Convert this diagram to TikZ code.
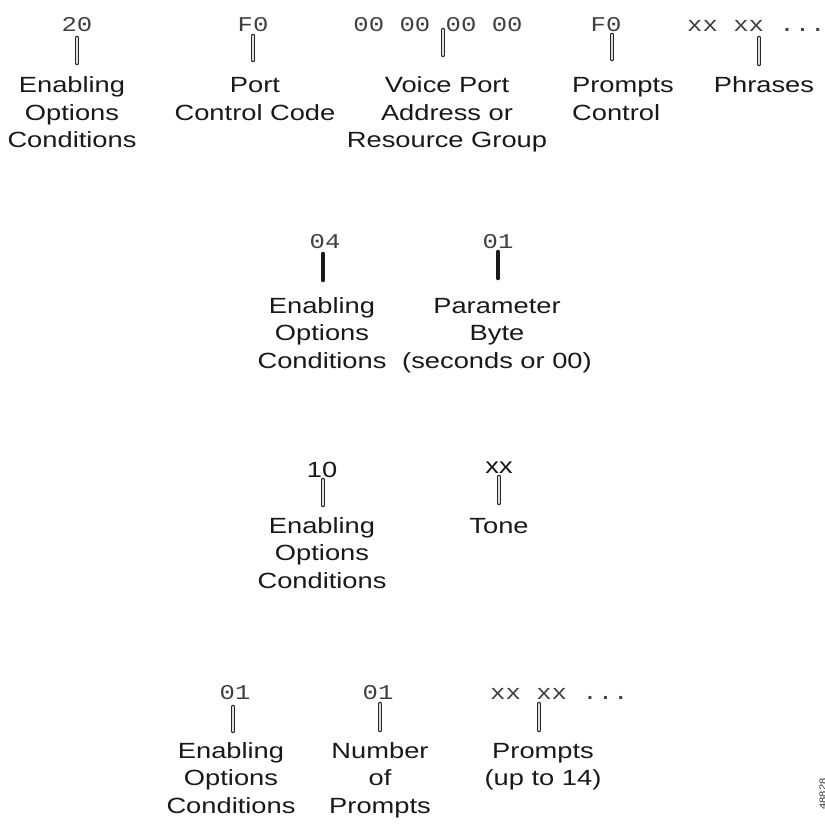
\documentclass[tikz,border=0pt]{standalone}
\usepackage{fontspec}
\setmainfont{Liberation Sans}[FakeStretch=1.24]
\newfontfamily\codefont{Liberation Mono}[FakeStretch=1.22]
\newcommand{\labfont}{\fontsize{22}{27.5}\selectfont}
\newcommand{\cfont}{\codefont\fontsize{21}{26}\selectfont}
\begin{document}
\begin{tikzpicture}[x=1pt,y=-1pt,
  lab/.style={font=\labfont, align=center, inner sep=0pt, anchor=base, text=black!90},
  labl/.style={font=\labfont, align=left, inner sep=0pt, anchor=base west, text=black!90},
  code/.style={font=\cfont, inner sep=0pt, anchor=base, text=black!75},
  scode/.style={font=\labfont, inner sep=0pt, anchor=base, text=black!90},
  bar/.style={line width=2.4pt, draw=gray!25, line cap=round, shorten <=2pt, shorten >=2pt,
    preaction={draw=black!85, line width=4.6pt, line cap=round, shorten <=2pt, shorten >=2pt}},
  solidbar/.style={line width=4.6pt, draw=black!90, line cap=round, shorten <=2pt, shorten >=2pt}]
\useasboundingbox (0,0) rectangle (824,826);

% ---------------- Row 1 ----------------
\node[code] (c1) at (77,32) {20};
\node[code] (c2) at (253,32) {F0};
\node[code] (c3) at (438,32) {00 00 00 00};
\node[code] (c4) at (606,32) {F0};
\node[code,anchor=base west] (c5) at (687,32) {xx xx ...};

% multi-line labels: the base anchor is the baseline of the last line
\node[lab] (l1) at (72,148) {Enabling\\Options\\Conditions};
\node[lab] (l2) at (255,120.5) {Port\\Control Code};
\node[lab] (l3) at (447,148) {Voice Port\\Address or\\Resource Group};
\node[labl] (l4) at (572,120.5) {Prompts\\Control};
\node[lab] (l5) at (764,93) {Phrases};

\coordinate (t1) at (77,36);  \coordinate (b1) at (77,65);
\coordinate (t2) at (253,34); \coordinate (b2) at (253,62);
\coordinate (t3) at (443,28); \coordinate (b3) at (443,57);
\coordinate (t4) at (612,33); \coordinate (b4) at (612,61);
\coordinate (t5) at (759,36); \coordinate (b5) at (759,66);
\draw[bar] (t1) -- (b1);
\draw[bar] (t2) -- (b2);
\draw[bar] (t3) -- (b3);
\draw[bar] (t4) -- (b4);
\draw[bar] (t5) -- (b5);

% ---------------- Row 2 ----------------
\node[code] (d1) at (325,248) {04};
\node[code] (d2) at (498,248) {01};
\node[lab] (m1) at (322,368) {Enabling\\Options\\Conditions};
\node[lab] (m2) at (497,368) {Parameter\\Byte\\(seconds or 00)};
\coordinate (u1) at (323,252); \coordinate (v1) at (323,282);
\coordinate (u2) at (498,250); \coordinate (v2) at (498,280);
\draw[solidbar] (u1) -- (v1);
\draw[solidbar] (u2) -- (v2);

% ---------------- Row 3 ----------------
\node[scode] (e1) at (322,477) {10};
\node[scode] (e2) at (499,473) {xx};
\node[lab] (n1) at (322,588) {Enabling\\Options\\Conditions};
\node[lab] (n2) at (499,533) {Tone};
\coordinate (p1) at (323,478); \coordinate (q1) at (323,507);
\coordinate (p2) at (499,475); \coordinate (q2) at (499,505);
\draw[bar] (p1) -- (q1);
\draw[bar] (p2) -- (q2);

% ---------------- Row 4 ----------------
\node[code] (f1) at (235,699) {01};
\node[code] (f2) at (378,699) {01};
\node[code,anchor=base west] (f3) at (490,699) {xx xx ...};
\node[lab] (o1) at (231,813) {Enabling\\Options\\Conditions};
\node[lab] (o2) at (380,813) {Number\\of\\Prompts};
\node[lab] (o3) at (543,785.5) {Prompts\\(up to 14)};
\coordinate (r1) at (233,705); \coordinate (s1) at (233,733);
\coordinate (r2) at (380,702); \coordinate (s2) at (380,732);
\coordinate (r3) at (539,702); \coordinate (s3) at (539,732);
\draw[bar] (r1) -- (s1);
\draw[bar] (r2) -- (s2);
\draw[bar] (r3) -- (s3);

% figure number (cut off at the edge, as in the original)
\node[rotate=90, anchor=north, inner sep=0pt, font=\fontsize{9}{10}\selectfont, text=black!80] (fig) at (819.5,794) {48828};
\end{tikzpicture}
\end{document}
